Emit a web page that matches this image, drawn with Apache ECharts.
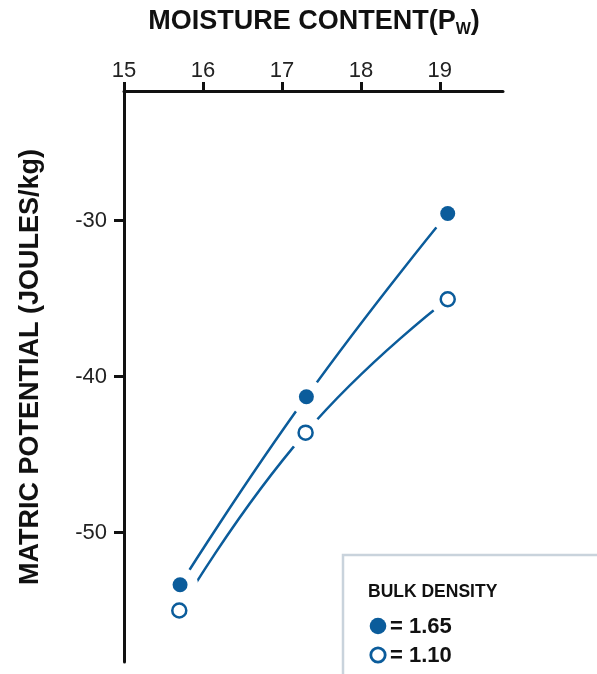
<!DOCTYPE html>
<html>
<head>
<meta charset="utf-8">
<script src="https://cdn.jsdelivr.net/npm/echarts@6/dist/echarts.min.js"></script>
<style>
html,body{margin:0;padding:0;background:#fff;}
#chart{width:597px;height:674px;}
</style>
</head>
<body>
<div id="chart"></div>
<script>
// Data
var xTicks = [15, 16, 17, 18, 19];
var yTicks = [-50, -40, -30];
var moistureDense = [15.71, 17.31, 19.10];
var potentialDense = [-53.35, -41.3, -29.55];   // bulk density 1.65
var moistureLoose = [15.70, 17.30, 19.10];
var potentialLoose = [-55.0, -43.6, -35.05];    // bulk density 1.10
var xTitle = '{a|MOISTURE CONTENT(P}{s|W}{a|)}';
var yTitle = 'MATRIC POTENTIAL (JOULES/kg)';
var legendTitle = 'BULK DENSITY';
var legendLabels = ['= 1.65', '= 1.10'];

var BLUE = '#0b5c9b';
var FONT = 'Liberation Sans';

function pairs(xs, ys) { return xs.map(function (x, i) { return [x, ys[i]]; }); }
var dense = pairs(moistureDense, potentialDense);
var loose = pairs(moistureLoose, potentialLoose);

var chart = echarts.init(document.getElementById('chart'), null, {renderer: 'canvas'});
chart.setOption({
  animation: false,
  backgroundColor: '#fff',
  grid: {left: 124, right: 94, top: 91, bottom: 12, containLabel: false, outerBoundsMode: 'none'},
  xAxis: {
    type: 'value', position: 'top', min: 15, max: 19.8,
    axisLine: {show: true, onZero: false, lineStyle: {color: '#111', width: 3}},
    axisTick: {show: true, inside: false, length: 9, customValues: xTicks, lineStyle: {color: '#111', width: 3}},
    axisLabel: {customValues: xTicks, fontFamily: FONT, fontSize: 22, color: '#222', margin: 9},
    splitLine: {show: false}
  },
  yAxis: {
    type: 'value', min: -58.3, max: -21.7,
    axisLine: {show: true, onZero: false, lineStyle: {color: '#111', width: 3}},
    axisTick: {show: true, inside: false, length: 10, customValues: yTicks, lineStyle: {color: '#111', width: 3}},
    axisLabel: {customValues: yTicks, fontFamily: FONT, fontSize: 22, color: '#222', margin: 17},
    splitLine: {show: false}
  },
  series: [
    {type: 'line', data: dense, smooth: 0.5, symbol: 'none', lineStyle: {color: BLUE, width: 2.5}, z: 2},
    {type: 'line', data: loose, smooth: 0.5, symbol: 'none', lineStyle: {color: BLUE, width: 2.5}, z: 2},
    {type: 'scatter', data: dense.concat(loose), symbol: 'circle', symbolSize: 36,
      itemStyle: {color: '#fff', opacity: 1}, z: 3, silent: true},
    {type: 'scatter', data: dense, symbol: 'circle', symbolSize: 15,
      itemStyle: {color: BLUE, opacity: 1}, z: 4},
    {type: 'scatter', data: loose, symbol: 'circle', symbolSize: 14,
      itemStyle: {color: '#fff', borderColor: BLUE, borderWidth: 2.5, opacity: 1}, z: 4}
  ],
  graphic: [
    {type: 'text', x: 314, y: 22,
      style: {text: xTitle, align: 'center', verticalAlign: 'middle',
        rich: {
          a: {fontFamily: FONT, fontWeight: 'bold', fontSize: 27, fill: '#111'},
          s: {fontFamily: FONT, fontWeight: 'bold', fontSize: 16, fill: '#111', padding: [16, 0, 0, 0]}
        }}, z: 11},
    {type: 'text', x: 31, y: 367, rotation: Math.PI / 2,
      style: {text: yTitle, fontFamily: FONT, fontWeight: 'bold', fontSize: 27, fill: '#111', align: 'center', verticalAlign: 'middle'}, z: 11},
    {type: 'rect', shape: {x: 343, y: 555, width: 320, height: 200},
      style: {fill: '#fff', stroke: '#c9d3dc', lineWidth: 2.5}, z: 10},
    {type: 'text', x: 368, y: 592, style: {text: legendTitle, fontFamily: FONT, fontWeight: 'bold', fontSize: 17.5, fill: '#111', verticalAlign: 'middle'}, z: 11},
    {type: 'circle', shape: {cx: 378, cy: 626, r: 8.3}, style: {fill: BLUE}, z: 11},
    {type: 'text', x: 390, y: 627, style: {text: legendLabels[0], fontFamily: FONT, fontWeight: 'bold', fontSize: 22, fill: '#111', verticalAlign: 'middle'}, z: 11},
    {type: 'circle', shape: {cx: 378, cy: 655, r: 7.2}, style: {fill: '#fff', stroke: BLUE, lineWidth: 2.8}, z: 11},
    {type: 'text', x: 390, y: 656, style: {text: legendLabels[1], fontFamily: FONT, fontWeight: 'bold', fontSize: 22, fill: '#111', verticalAlign: 'middle'}, z: 11}
  ]
});
</script>
</body>
</html>
